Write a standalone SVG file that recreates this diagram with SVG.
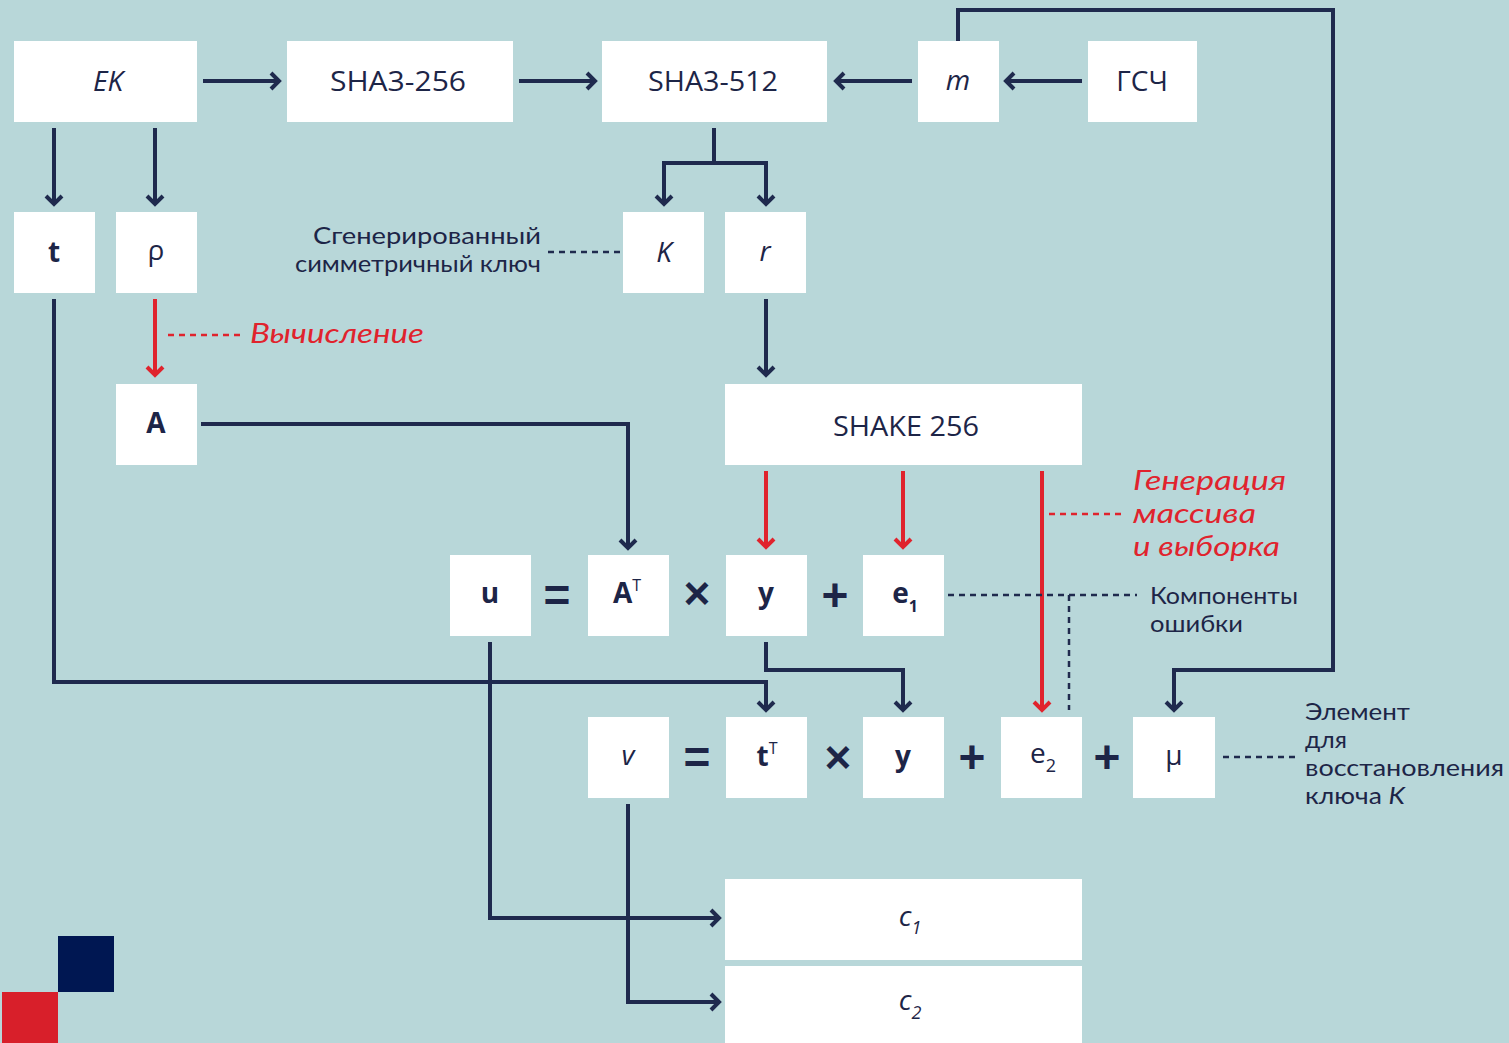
<svg xmlns="http://www.w3.org/2000/svg" width="1509" height="1043" viewBox="0 0 1509 1043">
<defs>
<style>
.bg{fill:#b8d7d9}
.box{fill:#ffffff}
.t{font-family:"Open Sans","Noto Sans",sans-serif;fill:#1d2547;text-anchor:middle}
.n{font-size:28px}
.b{font-weight:bold;font-size:28px}
.i{font-style:italic}
.lbl{font-family:Lato,"Open Sans",sans-serif;fill:#1d2547;font-size:23px}
.red{fill:#e0232d;font-style:italic;font-size:27px}
.ln{fill:none;stroke:#1f2a4e;stroke-width:4}
.rl{fill:none;stroke:#e0232d;stroke-width:4}
.dd{fill:none;stroke:#1f2a4e;stroke-width:2.5;stroke-dasharray:6 5}
.dr{fill:none;stroke:#e0232d;stroke-width:2.5;stroke-dasharray:6 5}
.op{font-family:"Liberation Sans",sans-serif;fill:#1d2547;font-size:46px;font-weight:bold;text-anchor:middle}
</style>
<marker id="ah" viewBox="0 0 20 20" refX="17" refY="10" markerWidth="20" markerHeight="20" markerUnits="userSpaceOnUse" orient="auto">
<path d="M9,2 L17,10 L9,18" fill="none" stroke="#1f2a4e" stroke-width="4"/>
</marker>
<marker id="ar" viewBox="0 0 20 20" refX="17" refY="10" markerWidth="20" markerHeight="20" markerUnits="userSpaceOnUse" orient="auto">
<path d="M9,2 L17,10 L9,18" fill="none" stroke="#e0232d" stroke-width="4"/>
</marker>
</defs>
<rect class="bg" x="0" y="0" width="1509" height="1043"/>

<g id="connectors">
<path class="ln" d="M203,81 H279" marker-end="url(#ah)"/>
<path class="ln" d="M519,81 H595" marker-end="url(#ah)"/>
<path class="ln" d="M912,81 H836" marker-end="url(#ah)"/>
<path class="ln" d="M1082,81 H1006" marker-end="url(#ah)"/>
<path class="ln" d="M54,128 V204" marker-end="url(#ah)"/>
<path class="ln" d="M155,128 V204" marker-end="url(#ah)"/>
<path class="ln" d="M714,128 V163"/>
<path class="ln" d="M664,204 V163 H766 V204" marker-end="url(#ah)"/>
<path class="ln" d="M664,163 V204" marker-end="url(#ah)"/>
<path class="ln" d="M958,41 V10 H1333 V670 H1174 V710" marker-end="url(#ah)"/>
<path class="ln" d="M766,299 V375" marker-end="url(#ah)"/>
<path class="rl" d="M155,299 V375" marker-end="url(#ar)"/>
<path class="ln" d="M201,424 H628 V548" marker-end="url(#ah)"/>
<path class="rl" d="M766,471 V547" marker-end="url(#ar)"/>
<path class="rl" d="M903,471 V547" marker-end="url(#ar)"/>
<path class="rl" d="M1042,471 V710" marker-end="url(#ar)"/>
<path class="ln" d="M54,299 V682 H766 V710" marker-end="url(#ah)"/>
<path class="ln" d="M766,642 V670 H903 V710" marker-end="url(#ah)"/>
<path class="ln" d="M490,642 V918 H719" marker-end="url(#ah)"/>
<path class="ln" d="M628,804 V1002 H719" marker-end="url(#ah)"/>
<path class="dd" d="M548,252 H620"/>
<path class="dr" d="M168,335 H242"/>
<path class="dr" d="M1049,514 H1125"/>
<path class="dd" d="M948,595 H1137"/>
<path class="dd" d="M1069,595 V710"/>
<path class="dd" d="M1223,757 H1297"/>
</g>

<g id="n-ek"><rect class="box" x="14" y="41" width="183" height="81"/><text class="t n i" x="108" y="91">EK</text></g>
<g id="n-sha256"><rect class="box" x="287" y="41" width="226" height="81"/><text class="t n" x="398" y="91" textLength="136" lengthAdjust="spacingAndGlyphs">SHA3-256</text></g>
<g id="n-sha512"><rect class="box" x="602" y="41" width="225" height="81"/><text class="t n" x="713" y="91" textLength="130" lengthAdjust="spacingAndGlyphs">SHA3-512</text></g>
<g id="n-m"><rect class="box" x="918" y="41" width="81" height="81"/><text class="t n i" x="958" y="90">m</text></g>
<g id="n-rng"><rect class="box" x="1088" y="41" width="109" height="81"/><text class="t n" x="1142" y="91">ГСЧ</text></g>
<g id="n-t"><rect class="box" x="14" y="212" width="81" height="81"/><text class="t b" x="54" y="262">t</text></g>
<g id="n-rho"><rect class="box" x="116" y="212" width="81" height="81"/><text class="t n" x="156" y="260">ρ</text></g>
<g id="n-k"><rect class="box" x="623" y="212" width="81" height="81"/><text class="t n i" x="664" y="262">K</text></g>
<g id="n-r"><rect class="box" x="725" y="212" width="81" height="81"/><text class="t n i" x="765" y="261">r</text></g>
<g id="n-a"><rect class="box" x="116" y="384" width="81" height="81"/><text class="t b" x="156" y="433">A</text></g>
<g id="n-shake"><rect class="box" x="725" y="384" width="357" height="81"/><text class="t n" x="906" y="436" textLength="146" lengthAdjust="spacingAndGlyphs">SHAKE 256</text></g>

<g id="n-u"><rect class="box" x="450" y="555" width="81" height="81"/><text class="t b" x="490" y="603">u</text></g>
<g id="n-at"><rect class="box" x="588" y="555" width="81" height="81"/><text class="t b" x="627" y="603">A<tspan font-weight="normal" font-size="16" dy="-12">T</tspan></text></g>
<g id="n-y1"><rect class="box" x="726" y="555" width="81" height="81"/><text class="t b" x="766" y="603">y</text></g>
<g id="n-e1"><rect class="box" x="863" y="555" width="81" height="81"/><text class="t b" x="905" y="603">e<tspan font-size="16" dy="9">1</tspan></text></g>

<g id="n-v"><rect class="box" x="588" y="717" width="81" height="81"/><text class="t n i" x="628" y="765">v</text></g>
<g id="n-tt"><rect class="box" x="726" y="717" width="81" height="81"/><text class="t b" x="767" y="766">t<tspan font-weight="normal" font-size="16" dy="-12">T</tspan></text></g>
<g id="n-y2"><rect class="box" x="863" y="717" width="81" height="81"/><text class="t b" x="903" y="766">y</text></g>
<g id="n-e2"><rect class="box" x="1001" y="717" width="81" height="81"/><text class="t n" x="1043" y="763">e<tspan font-size="18" dy="9">2</tspan></text></g>
<g id="n-mu"><rect class="box" x="1133" y="717" width="82" height="81"/><text class="t n" x="1174" y="765">μ</text></g>

<g id="n-c1"><rect class="box" x="725" y="879" width="357" height="81"/><text class="t n i" x="910" y="926">c<tspan font-size="18" dy="8">1</tspan></text></g>
<g id="n-c2"><rect class="box" x="725" y="966" width="357" height="80"/><text class="t n i" x="910" y="1010">c<tspan font-size="18" dy="9">2</tspan></text></g>

<g id="operators">
<text class="op" x="557" y="611">=</text>
<text class="op" x="697" y="609">×</text>
<text class="op" x="835" y="611">+</text>
<text class="op" x="697" y="773">=</text>
<text class="op" x="838" y="773">×</text>
<text class="op" x="972" y="773">+</text>
<text class="op" x="1107" y="773">+</text>
</g>

<g id="labels">
<text class="lbl" x="313" y="244" textLength="228" lengthAdjust="spacingAndGlyphs">Сгенерированный</text>
<text class="lbl" x="295" y="272" textLength="246" lengthAdjust="spacingAndGlyphs">симметричный ключ</text>
<text class="lbl red" x="250" y="343" textLength="174" lengthAdjust="spacingAndGlyphs">Вычисление</text>
<text class="lbl red" x="1133" y="490" textLength="153" lengthAdjust="spacingAndGlyphs">Генерация</text>
<text class="lbl red" x="1133" y="523" textLength="123" lengthAdjust="spacingAndGlyphs">массива</text>
<text class="lbl red" x="1133" y="556" textLength="147" lengthAdjust="spacingAndGlyphs">и выборка</text>
<text class="lbl" x="1150" y="604" textLength="148" lengthAdjust="spacingAndGlyphs">Компоненты</text>
<text class="lbl" x="1150" y="632" textLength="93" lengthAdjust="spacingAndGlyphs">ошибки</text>
<text class="lbl" x="1305" y="720" textLength="105" lengthAdjust="spacingAndGlyphs">Элемент</text>
<text class="lbl" x="1305" y="748" textLength="42" lengthAdjust="spacingAndGlyphs">для</text>
<text class="lbl" x="1305" y="776" textLength="199" lengthAdjust="spacingAndGlyphs">восстановления</text>
<text class="lbl" x="1305" y="804" textLength="100" lengthAdjust="spacingAndGlyphs">ключа <tspan font-style="italic">K</tspan></text>
</g>

<g id="logo">
<rect x="58" y="936" width="56" height="56" fill="#001752"/>
<rect x="2" y="992" width="56" height="51" fill="#d81f2a"/>
</g>
</svg>
